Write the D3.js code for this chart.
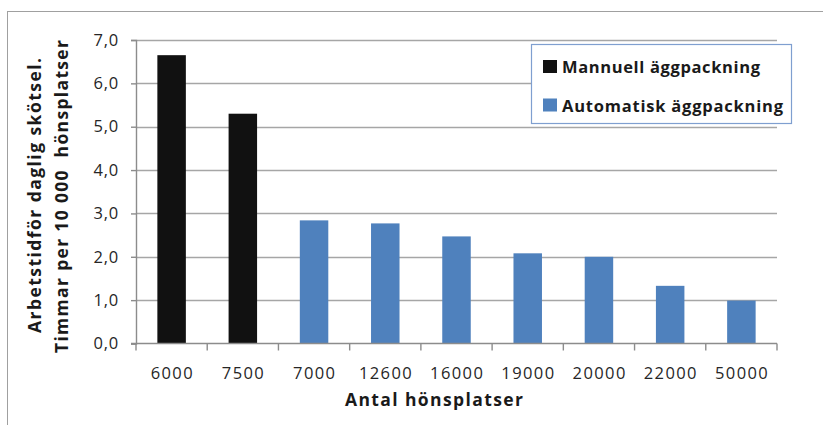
<!DOCTYPE html>
<html>
<head>
<meta charset="utf-8">
<script src="https://cdn.jsdelivr.net/npm/d3@7"></script>
<style>
  html, body { margin: 0; padding: 0; background: #fff; }
  svg { display: block; }
  text { font-family: "Open Sans", "Liberation Sans", sans-serif; }
</style>
</head>
<body>
<svg id="chart" width="823" height="425"></svg>
<script>
// ---- data ----
const manualCategories = ["6000", "7500"];
const manualValues = [6.65, 5.3];
const autoCategories = ["7000", "12600", "16000", "19000", "20000", "22000", "50000"];
const autoValues = [2.84, 2.77, 2.47, 2.08, 2.0, 1.33, 0.99];
const yTicks = [0, 1, 2, 3, 4, 5, 6, 7];
const seriesNames = ["Mannuell äggpackning", "Automatisk äggpackning"];
const seriesColors = ["#111111", "#4f81bd"];
const xTitle = "Antal hönsplatser";
const yTitleLines = ["Arbetstidför daglig skötsel.", "Timmar per 10 000  hönsplatser"];

// ---- layout ----
const svg = d3.select("#chart");
const plot = { left: 136, right: 777, top: 40, bottom: 343.5 };
const categories = manualCategories.concat(autoCategories);

const x = d3.scaleBand().domain(categories).range([plot.left, plot.right])
  .paddingInner(0.6).paddingOuter(0.3);
const y = d3.scaleLinear().domain([0, 7]).range([plot.bottom, plot.top]);

// outer frame
svg.append("rect").attr("x", 7.5).attr("y", 11.5).attr("width", 830).attr("height", 430)
  .attr("fill", "none").attr("stroke", "#a0a0a0").attr("stroke-width", 1);

// gridlines
svg.append("g").selectAll("line").data(yTicks.filter(d => d > 0)).join("line")
  .attr("x1", plot.left).attr("x2", plot.right)
  .attr("y1", d => Math.round(y(d)) + 0.5).attr("y2", d => Math.round(y(d)) + 0.5)
  .attr("stroke", "#a6a6a6").attr("stroke-width", 1.4);

// y axis
const yAxis = d3.axisLeft(y).tickValues(yTicks).tickSize(5).tickPadding(12)
  .tickFormat(d => d3.format(".1f")(d).replace(".", ","));
const gy = svg.append("g").attr("transform", `translate(${plot.left},0)`).call(yAxis);
gy.select(".domain").attr("stroke", "#8c8c8c").attr("stroke-width", 1.4);
gy.selectAll(".tick line").attr("stroke", "#8c8c8c").attr("stroke-width", 1.4);
gy.selectAll(".tick text").attr("font-size", 16.5).attr("fill", "#262626")
  .attr("font-family", "'Open Sans', sans-serif").attr("letter-spacing", 0.8);

// bars
const manualData = manualCategories.map((c, i) => ({ c, v: manualValues[i] }));
const autoData = autoCategories.map((c, i) => ({ c, v: autoValues[i] }));
[manualData, autoData].forEach((data, si) => {
  svg.append("g").selectAll("rect").data(data).join("rect")
    .attr("x", d => x(d.c)).attr("width", x.bandwidth())
    .attr("y", d => y(d.v)).attr("height", d => y(0) - y(d.v))
    .attr("fill", seriesColors[si]);
});

// x axis with ticks at category boundaries
const boundaries = d3.range(categories.length + 1).map(i => plot.left + i * x.step());
const gx = svg.append("g");
gx.append("line").attr("x1", plot.left - 5).attr("x2", plot.right)
  .attr("y1", plot.bottom).attr("y2", plot.bottom)
  .attr("stroke", "#8c8c8c").attr("stroke-width", 1.4);
gx.selectAll("line.tk").data(boundaries).join("line").attr("class", "tk")
  .attr("x1", d => d).attr("x2", d => d)
  .attr("y1", plot.bottom).attr("y2", plot.bottom + 7)
  .attr("stroke", "#8c8c8c").attr("stroke-width", 1.4);
gx.selectAll("text").data(categories).join("text")
  .attr("x", d => x(d) + x.bandwidth() / 2 + 0.7).attr("y", 379)
  .attr("text-anchor", "middle").attr("font-size", 16.5).attr("fill", "#262626")
  .attr("letter-spacing", 1.4)
  .text(d => d);

// axis titles
svg.append("text").attr("x", 345).attr("y", 406)
  .attr("font-size", 17.5).attr("font-weight", "bold").attr("fill", "#1a1a1a")
  .attr("textLength", 178).attr("lengthAdjust", "spacing")
  .text(xTitle);

const yTitleSpans = [[58, 275], [40, 313]];
yTitleLines.forEach((t, i) => {
  const [top, len] = yTitleSpans[i];
  svg.append("text")
    .attr("transform", `translate(${41 + i * 27},${top + len}) rotate(-90)`)
    .attr("font-size", 17.5).attr("font-weight", "bold")
    .attr("fill", "#1a1a1a").attr("xml:space", "preserve").style("white-space", "pre")
    .attr("textLength", len).attr("lengthAdjust", "spacing")
    .text(t);
});

// legend
const lg = svg.append("g");
lg.append("rect").attr("x", 531.5).attr("y", 44.5).attr("width", 260).attr("height", 79)
  .attr("fill", "#fff").attr("stroke", "#7f9fd0").attr("stroke-width", 1.2);
const legendLens = [198, 221];
seriesNames.forEach((n, i) => {
  const yy = 73 + i * 38.5;
  lg.append("rect").attr("x", 543).attr("y", yy - 13).attr("width", 14).attr("height", 13)
    .attr("fill", seriesColors[i]);
  lg.append("text").attr("x", 562).attr("y", yy).attr("font-size", 16.5)
    .attr("font-weight", "bold").attr("fill", "#1a1a1a")
    .attr("textLength", legendLens[i]).attr("lengthAdjust", "spacing").text(n);
});
</script>
</body>
</html>
